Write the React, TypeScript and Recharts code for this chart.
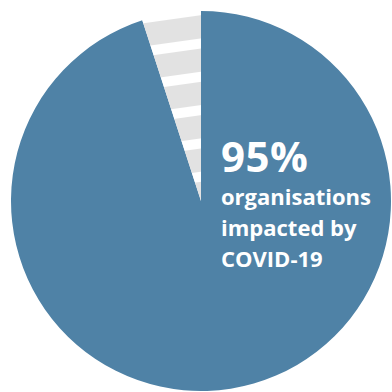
import { PieChart, Pie, Cell } from "recharts";

const segments = ["Impacted", "Not impacted"];
const shares = [95, 5];
const headline = "95%";
const captionLines = ["organisations", "impacted by", "COVID-19"];

const data = segments.map((name, i) => ({ name, value: shares[i] }));

const BLUE = "#4f82a6";
const GREY = "#e2e2e2";

const font = "'Open Sans', sans-serif";

const App = () => {
  return (
    <div style={{ position: "absolute", left: 0, top: 0, width: 392, height: 392 }}>
      <PieChart width={392} height={392} margin={{ top: 0, right: 0, bottom: 0, left: 0 }}>
        <defs>
          <pattern
            id="stripes"
            patternUnits="userSpaceOnUse"
            width="40"
            height="33"
            patternTransform="rotate(-8)"
          >
            <rect width="40" height="33" fill={GREY} />
            <rect y="0" width="40" height="10" fill="#ffffff" />
          </pattern>
        </defs>
        <Pie
          data={data}
          dataKey="value"
          cx={201}
          cy={201}
          innerRadius={0}
          outerRadius={190}
          startAngle={90}
          endAngle={-270}
          stroke="none"
          isAnimationActive={false}
        >
          <Cell fill={BLUE} />
          <Cell fill="url(#stripes)" />
        </Pie>
      </PieChart>
      <div
        style={{
          position: "absolute",
          left: 221,
          top: 133,
          color: "#ffffff",
          fontFamily: font,
          fontWeight: 700,
          fontSize: 42,
          lineHeight: "46px",
          letterSpacing: 0.5,
        }}
      >
        {headline}
      </div>
      <div
        style={{
          position: "absolute",
          left: 221,
          top: 181,
          color: "#ffffff",
          fontFamily: font,
          fontWeight: 700,
          fontSize: 22,
          lineHeight: "31px",
        }}
      >
        {captionLines.map((l) => (
          <div key={l} style={{ whiteSpace: "nowrap" }}>
            {l}
          </div>
        ))}
      </div>
    </div>
  );
};

export default App;
